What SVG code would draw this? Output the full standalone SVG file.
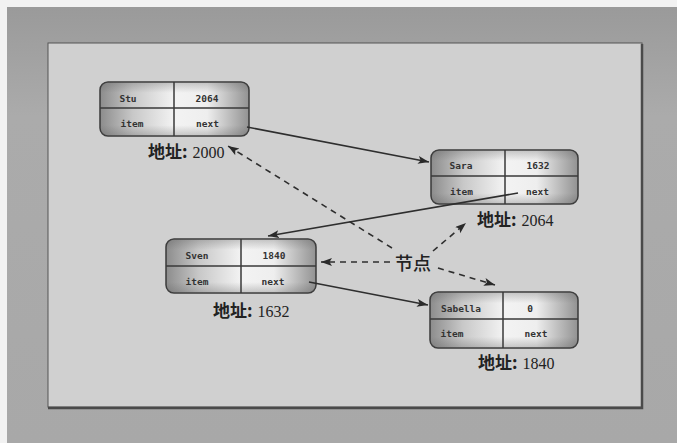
<svg xmlns="http://www.w3.org/2000/svg" width="677" height="443" viewBox="0 0 677 443">
<defs>
<linearGradient id="outer" x1="0" y1="0" x2="0" y2="1">
<stop offset="0" stop-color="#9a9a9a"/>
<stop offset="0.25" stop-color="#ababab"/>
<stop offset="1" stop-color="#a8a8a8"/>
</linearGradient>
<linearGradient id="nodeH" x1="0" y1="0" x2="1" y2="0">
<stop offset="0" stop-color="#8c8c8c"/>
<stop offset="0.22" stop-color="#c8c8c8"/>
<stop offset="0.5" stop-color="#f3f3f3"/>
<stop offset="0.72" stop-color="#eeeeee"/>
<stop offset="1" stop-color="#929292"/>
</linearGradient>
<linearGradient id="nodeV" x1="0" y1="0" x2="0" y2="1">
<stop offset="0" stop-color="#555" stop-opacity="0.3"/>
<stop offset="0.2" stop-color="#555" stop-opacity="0"/>
<stop offset="0.8" stop-color="#555" stop-opacity="0"/>
<stop offset="1" stop-color="#555" stop-opacity="0.3"/>
</linearGradient>
<marker id="arr" markerUnits="userSpaceOnUse" markerWidth="12" markerHeight="9" refX="11" refY="4" orient="auto">
<path d="M0,0 L11,4 L0,8 L2.5,4 z" fill="#2a2a2a"/>
</marker>
</defs>
<style>
.box{fill:url(#nodeH);stroke:#3a3a3a;stroke-width:1.5}
.shade{fill:url(#nodeV);stroke:none}
.div{stroke:#3a3a3a;stroke-width:1.5;fill:none}
.t{font-family:"DejaVu Sans Mono","Liberation Mono",monospace;font-size:9.5px;font-weight:bold;fill:#333;text-anchor:middle}
.lbl{font-family:"Noto Sans CJK SC",sans-serif;font-size:17px;font-weight:bold;fill:#222}
.num{font-family:"Liberation Serif",serif;font-size:16px;font-weight:normal}
.solid{stroke:#2e2e2e;stroke-width:1.6;fill:none;marker-end:url(#arr)}
.dash{stroke:#2e2e2e;stroke-width:1.6;fill:none;stroke-dasharray:6,5;marker-end:url(#arr)}
</style>
<rect x="0" y="0" width="677" height="443" fill="#f2f2f2"/>
<rect x="7" y="7" width="670" height="436" fill="url(#outer)"/>
<rect x="48" y="43" width="594" height="364" fill="#d0d0d0" stroke="#555" stroke-width="1"/>
<path d="M642,44 L642,408 L48,408" fill="none" stroke="#4a4a4a" stroke-width="2.5"/>

<g id="node-stu">
<rect class="box" x="100" y="82" width="149" height="54" rx="8"/>
<rect class="shade" x="100" y="82" width="149" height="54" rx="8"/>
<path class="div" d="M174,82 V136 M100,108 H249"/>
<text class="t" x="128" y="102">Stu</text>
<text class="t" x="207" y="102">2064</text>
<text class="t" x="132" y="127">item</text>
<text class="t" x="207.5" y="127">next</text>
<text class="lbl" x="148" y="158">地址:<tspan class="num" dx="5">2000</tspan></text>
</g>

<g id="node-sara">
<rect class="box" x="431" y="150" width="147" height="54" rx="8"/>
<rect class="shade" x="431" y="150" width="147" height="54" rx="8"/>
<path class="div" d="M505,150 V204 M431,176 H578"/>
<text class="t" x="461" y="169">Sara</text>
<text class="t" x="538" y="169">1632</text>
<text class="t" x="461.5" y="195">item</text>
<text class="t" x="537.5" y="195">next</text>
<text class="lbl" x="477" y="226">地址:<tspan class="num" dx="5">2064</tspan></text>
</g>

<g id="node-sven">
<rect class="box" x="166" y="239" width="150" height="54" rx="8"/>
<rect class="shade" x="166" y="239" width="150" height="54" rx="8"/>
<path class="div" d="M241,239 V293 M166,266 H316"/>
<text class="t" x="197" y="259">Sven</text>
<text class="t" x="274" y="259">1840</text>
<text class="t" x="197" y="285">item</text>
<text class="t" x="273" y="285">next</text>
<text class="lbl" x="213" y="317">地址:<tspan class="num" dx="5">1632</tspan></text>
</g>

<g id="node-sabella">
<rect class="box" x="430" y="292" width="148" height="56" rx="8"/>
<rect class="shade" x="430" y="292" width="148" height="56" rx="8"/>
<path class="div" d="M503,292 V348 M430,319 H578"/>
<text class="t" x="461" y="312">Sabella</text>
<text class="t" x="530" y="312">0</text>
<text class="t" x="452" y="337">item</text>
<text class="t" x="536" y="337">next</text>
<text class="lbl" x="478" y="369">地址:<tspan class="num" dx="5">1840</tspan></text>
</g>

<g id="node-label">
<text x="395" y="270" font-family="Noto Sans CJK SC,sans-serif" font-size="18" font-weight="500" fill="#222">节点</text>
</g>

<g id="connectors">
<path class="solid" d="M247,127 L429,162"/>
<path class="solid" d="M518,193 L268,236"/>
<path class="solid" d="M309,282 L428,305"/>
<path class="dash" d="M392,248 L228,146"/>
<path class="dash" d="M433,251 L466,223"/>
<path class="dash" d="M390,262 L321,262"/>
<path class="dash" d="M438,268 L495,285"/>
</g>
</svg>
